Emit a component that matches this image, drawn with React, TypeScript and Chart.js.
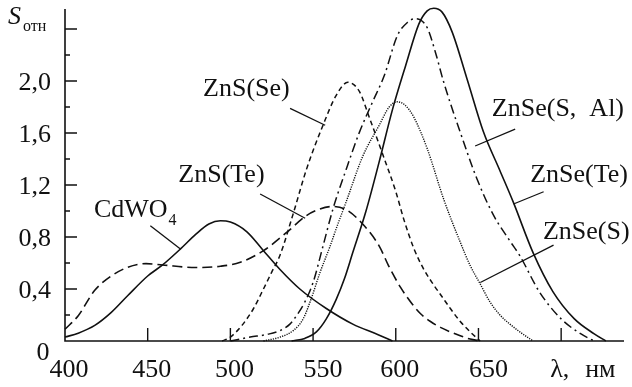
import React, { useEffect, useRef } from 'react';
import { Chart, registerables } from 'chart.js';

Chart.register(...registerables);

// ---- Data (wavelength in nm, relative intensity) ----
const cdwo4Wl = [400, 408, 418, 428, 438, 450, 459, 470, 479, 487, 494, 500, 510, 520, 530, 542, 558, 574, 589, 598];
const cdwo4S = [0.03, 0.06, 0.12, 0.22, 0.35, 0.5, 0.585, 0.71, 0.82, 0.9, 0.925, 0.915, 0.84, 0.695, 0.55, 0.4, 0.25, 0.13, 0.05, 0];

const znsTeWl = [400, 408, 418, 428, 438, 449, 459, 479, 494, 506, 520, 534, 546, 553, 562, 570, 580, 590, 596, 603, 609, 615, 621, 627, 633, 639, 645, 651];
const znsTeS = [0.09, 0.195, 0.39, 0.5, 0.567, 0.595, 0.585, 0.565, 0.575, 0.605, 0.695, 0.835, 0.965, 1.01, 1.035, 1.01, 0.9, 0.73, 0.57, 0.41, 0.3, 0.21, 0.15, 0.105, 0.07, 0.04, 0.015, 0];

const znsSeWl = [495, 500, 507, 514, 520, 525, 530, 538, 546, 556, 564, 571, 578, 584, 592, 600, 605, 611, 617, 623, 628, 633, 639, 645, 651];
const znsSeS = [0, 0.03, 0.12, 0.25, 0.4, 0.53, 0.66, 0.98, 1.32, 1.66, 1.89, 1.99, 1.92, 1.72, 1.44, 1.15, 0.93, 0.71, 0.55, 0.43, 0.34, 0.25, 0.15, 0.07, 0];

const znseSAlWl = [500, 512, 522, 530, 536, 540, 545, 550, 556, 562, 570, 578, 586, 593, 601, 607, 612, 619, 624, 629, 639, 649, 659, 669, 675, 687, 700, 712, 720];
const znseSAlS = [0, 0.03, 0.05, 0.08, 0.13, 0.195, 0.3, 0.45, 0.73, 1.015, 1.32, 1.605, 1.84, 2.04, 2.35, 2.45, 2.48, 2.41, 2.22, 1.99, 1.605, 1.25, 0.97, 0.77, 0.656, 0.375, 0.17, 0.054, 0];

const znseTeWl = [537, 545, 552, 558, 564, 569, 574, 582, 590, 598, 606, 614, 619, 623, 628, 634, 643, 653, 663, 671, 683, 695, 708, 720, 727];
const znseTeS = [0, 0.02, 0.07, 0.17, 0.32, 0.48, 0.68, 1.0, 1.38, 1.78, 2.12, 2.44, 2.54, 2.56, 2.53, 2.38, 2.02, 1.61, 1.31, 1.07, 0.68, 0.38, 0.17, 0.055, 0];

const znseSWl = [520, 530, 538, 544, 549, 554, 560, 565, 570, 580, 590, 596, 601, 606, 611, 619, 629, 639, 645, 651, 657, 663, 669, 675, 683];
const znseSS = [0, 0.03, 0.08, 0.17, 0.33, 0.52, 0.72, 0.9, 1.07, 1.42, 1.66, 1.8, 1.84, 1.81, 1.72, 1.48, 1.09, 0.76, 0.58, 0.44, 0.3, 0.2, 0.13, 0.07, 0];

// ---- Axes ----
const xMin = 400;
const xMax = 738;
const yMin = 0;
const yMax = 2.554;
const xTickValues = [450, 500, 550, 600, 650, 700];
const xLabelValues = [400, 450, 500, 550, 600, 650];
const xLabelTexts = ['400', '450', '500', '550', '600', '650'];
const xTitleValue = 700;
const xTitle = 'λ, нм';
const yMajorValues = [0.4, 0.8, 1.2, 1.6, 2.0, 2.4];
const yMinorValues = [0.2, 0.6, 1.0, 1.4, 1.8, 2.2];
const yLabelValues = [0.4, 0.8, 1.2, 1.6, 2.0];
const yLabelTexts = ['0,4', '0,8', '1,2', '1,6', '2,0'];
const zeroLabel = '0';
const yTitleMain = 'S';
const yTitleSub = 'отн';

// ---- Curve labels (text anchor + leader line, in data units) ----
const labelNames = ['CdWO', 'ZnS(Te)', 'ZnS(Se)', 'ZnSe(S,  Al)', 'ZnSe(Te)', 'ZnSe(S)'];
const labelSubs = ['4', '', '', '', '', ''];
const labelAt = [[417.5, 0.954], [468.5, 1.223], [483.5, 1.885], [658.1, 1.733], [681.3, 1.221], [689, 0.785]];
const leaderFrom = [[451.6, 0.887], [518, 1.131], [536.1, 1.79], [672.2, 1.63], [689.4, 1.148], [695.4, 0.738]];
const leaderTo = [[469.8, 0.708], [545.2, 0.944], [557.3, 1.66], [648, 1.5], [671.2, 1.054], [651.1, 0.45]];

const INK = '#111';
const FONT = '"Liberation Serif", "Times New Roman", serif';

const zip = (xs: number[], ys: number[]) => xs.map((x, i) => ({ x, y: ys[i] }));

const overlay = {
  id: 'overlay',
  afterDatasetsDraw(chart: any) {
    const { ctx, chartArea } = chart;
    const xs = chart.scales.x;
    const ys = chart.scales.y;
    const px = (v: number) => xs.getPixelForValue(v);
    const py = (v: number) => ys.getPixelForValue(v);
    ctx.save();
    ctx.strokeStyle = INK;
    ctx.fillStyle = INK;
    ctx.lineWidth = 1.6;
    const x0 = px(xMin);
    const y0 = py(0);
    ctx.beginPath();
    ctx.moveTo(x0, chartArea.top);
    ctx.lineTo(x0, y0);
    ctx.lineTo(chartArea.right, y0);
    ctx.stroke();

    ctx.lineWidth = 1.4;
    ctx.beginPath();
    xTickValues.forEach((v) => {
      ctx.moveTo(px(v), y0);
      ctx.lineTo(px(v), y0 - 13);
    });
    yMajorValues.forEach((v) => {
      ctx.moveTo(x0, py(v));
      ctx.lineTo(x0 + 12, py(v));
    });
    yMinorValues.forEach((v) => {
      ctx.moveTo(x0, py(v));
      ctx.lineTo(x0 + 5, py(v));
    });
    ctx.stroke();

    ctx.font = `26px ${FONT}`;
    ctx.textBaseline = 'alphabetic';
    ctx.textAlign = 'center';
    xLabelValues.forEach((v, i) => {
      ctx.fillText(xLabelTexts[i], px(v) + 4 + (v >= 550 && v !== 600 ? 6 : 0), y0 + 36);
    });
    ctx.textAlign = 'left';
    ctx.fillText(xTitle.split(' ')[0], px(xTitleValue) - 11, y0 + 36);
    ctx.fillText(xTitle.split(' ')[1], px(xTitleValue) + 24, y0 + 36);

    ctx.textAlign = 'right';
    yLabelValues.forEach((v, i) => {
      ctx.fillText(yLabelTexts[i], x0 - 14, py(v) + 9);
    });
    ctx.textAlign = 'center';
    ctx.fillText(zeroLabel, x0 - 22, y0 + 19);

    ctx.textAlign = 'left';
    ctx.font = `italic 26px ${FONT}`;
    ctx.fillText(yTitleMain, x0 - 57, chartArea.top + 15);
    ctx.font = `16px ${FONT}`;
    ctx.fillText(yTitleSub, x0 - 42, chartArea.top + 22);

    // curve labels
    ctx.lineWidth = 1.3;
    labelNames.forEach((name, i) => {
      ctx.beginPath();
      ctx.moveTo(px(leaderFrom[i][0]), py(leaderFrom[i][1]));
      ctx.lineTo(px(leaderTo[i][0]), py(leaderTo[i][1]));
      ctx.stroke();
      ctx.font = `26px ${FONT}`;
      ctx.textAlign = 'left';
      const tx = px(labelAt[i][0]);
      const ty = py(labelAt[i][1]);
      ctx.fillText(name, tx, ty);
      if (labelSubs[i]) {
        const w = ctx.measureText(name).width;
        ctx.font = `16px ${FONT}`;
        ctx.fillText(labelSubs[i], tx + w + 1, ty + 8);
      }
    });
    ctx.restore();
  },
};

export default function App() {
  const canvasRef = useRef<HTMLCanvasElement | null>(null);

  useEffect(() => {
    const canvas = canvasRef.current;
    if (!canvas) return;
    const common = {
      borderColor: INK,
      pointRadius: 0,
      fill: false,
      cubicInterpolationMode: 'monotone' as const,
      clip: false as any,
    };
    const chart = new Chart(canvas, {
      type: 'line',
      data: {
        datasets: [
          { ...common, label: 'CdWO4', data: zip(cdwo4Wl, cdwo4S), borderWidth: 1.6 },
          { ...common, label: 'ZnS(Te)', data: zip(znsTeWl, znsTeS), borderWidth: 1.6, borderDash: [10, 5] },
          { ...common, label: 'ZnS(Se)', data: zip(znsSeWl, znsSeS), borderWidth: 1.5, borderDash: [5, 3.5] },
          { ...common, label: 'ZnSe(S, Al)', data: zip(znseSAlWl, znseSAlS), borderWidth: 1.5, borderDash: [9, 4, 2, 4] },
          { ...common, label: 'ZnSe(Te)', data: zip(znseTeWl, znseTeS), borderWidth: 1.6 },
          { ...common, label: 'ZnSe(S)', data: zip(znseSWl, znseSS), borderWidth: 1.4, borderDash: [1.2, 1.2], borderColor: '#111' },
        ],
      },
      options: {
        responsive: false,
        animation: false,
        devicePixelRatio: 1,
        layout: { padding: { left: 65, right: 8, top: 9, bottom: 46 } },
        plugins: { legend: { display: false }, tooltip: { enabled: false } },
        scales: {
          x: { type: 'linear', min: xMin, max: xMax, display: false },
          y: { type: 'linear', min: yMin, max: yMax, display: false },
        },
      },
      plugins: [overlay],
    });
    return () => chart.destroy();
  }, []);

  return (
    <div style={{ position: 'fixed', left: 0, top: 0, width: 632, height: 387, background: '#fff' }}>
      <canvas ref={canvasRef} width={632} height={387} style={{ display: 'block' }} />
    </div>
  );
}
